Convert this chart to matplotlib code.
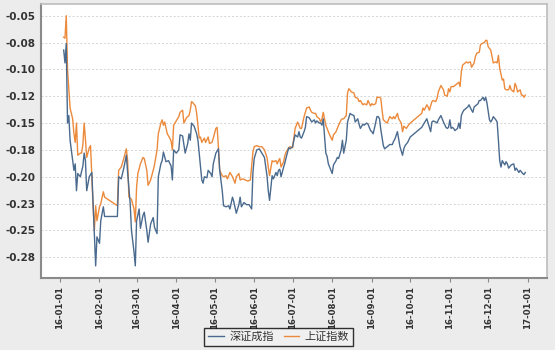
import matplotlib
matplotlib.use("Agg")
import matplotlib.pyplot as plt
import matplotlib.dates as mdates
import matplotlib.ticker as mticker
import pandas as pd

series_names = ["深证成指", "上证指数"]

dates_sz = ["01-04","01-05","01-06","01-07","01-08","01-09","01-11","01-12","01-13","01-14","01-15","01-17","01-19","01-20","01-21","01-22","01-24","01-25","01-26","01-27","01-28","01-29","01-30",
"02-01","02-02","02-04","02-05","02-15","02-16","02-18","02-20","02-22","02-23","02-25","02-26","02-28","02-29",
"03-01","03-03","03-04","03-06","03-07","03-09","03-10","03-12","03-14","03-15","03-17","03-18","03-20","03-21","03-22","03-24","03-26","03-28","03-29","03-30",
"04-01","04-03","04-04","04-06","04-08","04-10","04-11","04-12","04-13","04-15","04-17","04-18","04-20","04-21","04-22","04-23","04-25","04-26","04-28","04-29","04-30",
"05-02","05-04","05-05","05-07","05-08","05-10","05-12","05-13","05-15","05-16","05-18","05-20","05-21","05-22","05-24","05-26","05-28","05-30","05-31",
"06-01","06-03","06-05","06-07","06-09","06-11","06-12","06-13","06-15","06-16","06-18","06-19","06-20","06-21","06-22","06-24","06-25","06-26","06-28","06-29",
"07-01","07-02","07-03","07-05","07-06","07-07","07-08","07-10","07-11","07-12","07-14","07-15","07-16","07-18","07-19","07-20","07-22","07-23","07-24","07-25","07-27","07-28","07-29","07-31",
"08-01","08-02","08-04","08-05","08-06","08-08","08-09","08-10","08-12","08-13","08-15","08-16","08-18","08-19","08-21","08-22","08-23","08-25","08-26","08-28","08-29","08-31",
"09-01","09-02","09-03","09-05","09-06","09-07","09-08","09-10","09-11","09-12","09-14","09-15","09-17","09-18","09-19","09-21","09-22","09-23","09-25","09-26","09-27","09-29",
"10-01","10-04","10-07","10-10","10-11","10-12","10-14","10-15","10-17","10-18","10-19","10-21","10-22","10-23","10-25","10-27","10-29","10-30","10-31",
"11-01","11-02","11-03","11-04","11-05","11-07","11-08","11-09","11-10","11-11","11-12","11-14","11-15","11-16","11-18","11-19","11-20","11-22","11-23","11-24","11-25","11-27","11-28","11-29","11-30",
"12-02","12-03","12-04","12-05","12-07","12-08","12-09","12-10","12-11","12-12","12-14","12-15","12-16","12-17","12-19","12-21","12-22","12-23","12-25","12-26","12-28","12-29","12-30"]

values_sz = [-0.082,-0.094,-0.076,-0.150,-0.143,-0.166,-0.185,-0.194,-0.188,-0.213,-0.197,-0.200,-0.190,-0.178,-0.185,-0.213,-0.200,-0.198,-0.196,-0.225,-0.253,-0.283,-0.256,
-0.262,-0.241,-0.228,-0.237,-0.237,-0.200,-0.202,-0.192,-0.180,-0.196,-0.225,-0.250,-0.270,-0.283,
-0.241,-0.230,-0.248,-0.236,-0.233,-0.250,-0.261,-0.244,-0.238,-0.247,-0.253,-0.200,-0.188,-0.185,-0.177,-0.186,-0.185,-0.190,-0.203,-0.175,
-0.178,-0.175,-0.161,-0.162,-0.178,-0.169,-0.160,-0.166,-0.150,-0.153,-0.160,-0.166,-0.191,-0.203,-0.206,-0.200,-0.201,-0.194,-0.197,-0.200,-0.188,
-0.178,-0.174,-0.194,-0.213,-0.227,-0.228,-0.227,-0.230,-0.219,-0.223,-0.234,-0.226,-0.219,-0.228,-0.224,-0.226,-0.226,-0.230,-0.196,
-0.183,-0.175,-0.174,-0.178,-0.182,-0.199,-0.213,-0.222,-0.199,-0.202,-0.196,-0.199,-0.194,-0.193,-0.200,-0.191,-0.187,-0.182,-0.173,-0.174,
-0.172,-0.166,-0.161,-0.163,-0.158,-0.163,-0.164,-0.158,-0.154,-0.144,-0.145,-0.147,-0.149,-0.147,-0.150,-0.148,-0.150,-0.150,-0.152,-0.146,-0.178,-0.181,-0.188,-0.194,
-0.197,-0.189,-0.185,-0.182,-0.183,-0.175,-0.166,-0.178,-0.166,-0.149,-0.141,-0.142,-0.143,-0.149,-0.146,-0.151,-0.155,-0.151,-0.152,-0.150,-0.151,-0.157,
-0.158,-0.160,-0.155,-0.144,-0.144,-0.146,-0.156,-0.171,-0.174,-0.173,-0.171,-0.170,-0.170,-0.167,-0.165,-0.158,-0.165,-0.172,-0.180,-0.174,-0.171,-0.168,
-0.163,-0.160,-0.157,-0.154,-0.152,-0.150,-0.146,-0.150,-0.158,-0.149,-0.148,-0.149,-0.150,-0.147,-0.143,-0.149,-0.154,-0.155,-0.154,
-0.147,-0.155,-0.154,-0.155,-0.157,-0.155,-0.150,-0.155,-0.143,-0.140,-0.138,-0.136,-0.135,-0.133,-0.138,-0.140,-0.135,-0.133,-0.132,-0.129,-0.129,-0.126,-0.129,-0.126,-0.131,
-0.147,-0.149,-0.147,-0.144,-0.147,-0.149,-0.166,-0.185,-0.191,-0.185,-0.189,-0.186,-0.188,-0.192,-0.189,-0.188,-0.194,-0.192,-0.196,-0.194,-0.197,-0.198,-0.196]

dates_sh = ["01-04","01-05","01-06","01-07","01-08","01-09","01-11","01-12","01-13","01-14","01-15","01-17","01-18","01-19","01-20","01-21","01-22","01-24","01-25","01-26","01-27","01-28","01-29","01-30",
"02-01","02-02","02-04","02-05","02-15","02-16","02-18","02-20","02-22","02-23","02-24","02-26","02-28","02-29",
"03-01","03-02","03-04","03-06","03-07","03-09","03-10","03-12","03-14","03-15","03-17","03-18","03-20","03-21","03-22","03-23","03-25","03-27","03-28","03-29","03-30",
"04-01","04-03","04-04","04-06","04-07","04-09","04-11","04-12","04-13","04-14","04-16","04-17","04-19","04-20","04-21","04-23","04-24","04-26","04-27","04-29","04-30",
"05-02","05-03","05-04","05-05","05-07","05-08","05-10","05-11","05-13","05-15","05-17","05-18","05-20","05-21","05-23","05-25","05-27","05-29","05-31",
"06-01","06-03","06-05","06-07","06-09","06-11","06-12","06-13","06-15","06-16","06-18","06-19","06-20","06-21","06-22","06-24","06-25","06-26","06-28","06-29",
"07-01","07-02","07-03","07-05","07-07","07-08","07-10","07-12","07-14","07-15","07-16","07-18","07-19","07-20","07-22","07-23","07-24","07-25","07-27","07-28","07-29","07-30",
"08-01","08-02","08-04","08-05","08-06","08-08","08-09","08-10","08-12","08-13","08-14","08-16","08-18","08-19","08-21","08-22","08-23","08-25","08-26","08-28","08-29","08-31",
"09-01","09-02","09-04","09-05","09-07","09-08","09-09","09-10","09-12","09-13","09-14","09-15","09-17","09-18","09-19","09-21","09-22","09-24","09-25","09-26","09-28","09-29",
"10-01","10-04","10-07","10-10","10-11","10-12","10-14","10-15","10-16","10-18","10-19","10-21","10-22","10-23","10-25","10-27","10-28","10-30","10-31",
"11-01","11-02","11-04","11-05","11-07","11-08","11-09","11-10","11-11","11-13","11-14","11-15","11-17","11-18","11-20","11-21","11-22","11-24","11-25","11-26","11-28","11-29","11-30",
"12-01","12-03","12-04","12-05","12-07","12-08","12-09","12-10","12-12","12-13","12-14","12-15","12-17","12-18","12-19","12-21","12-22","12-23","12-24","12-26","12-27","12-28","12-29","12-30"]

values_sh = [-0.070,-0.071,-0.050,-0.100,-0.118,-0.136,-0.146,-0.160,-0.168,-0.150,-0.180,-0.178,-0.178,-0.170,-0.150,-0.165,-0.182,-0.173,-0.171,-0.200,-0.228,-0.250,-0.227,-0.241,
-0.228,-0.225,-0.214,-0.219,-0.227,-0.194,-0.191,-0.183,-0.174,-0.185,-0.219,-0.221,-0.230,-0.242,
-0.210,-0.197,-0.188,-0.182,-0.183,-0.194,-0.208,-0.203,-0.194,-0.189,-0.175,-0.160,-0.150,-0.147,-0.152,-0.149,-0.160,-0.164,-0.167,-0.175,-0.152,
-0.148,-0.144,-0.140,-0.138,-0.150,-0.145,-0.143,-0.138,-0.130,-0.131,-0.134,-0.141,-0.164,-0.163,-0.168,-0.164,-0.168,-0.163,-0.169,-0.168,-0.164,
-0.155,-0.154,-0.172,-0.194,-0.199,-0.200,-0.199,-0.202,-0.196,-0.200,-0.206,-0.200,-0.197,-0.203,-0.202,-0.203,-0.204,-0.203,-0.177,
-0.172,-0.171,-0.172,-0.172,-0.175,-0.182,-0.191,-0.199,-0.185,-0.186,-0.185,-0.188,-0.185,-0.183,-0.191,-0.186,-0.180,-0.177,-0.173,-0.172,
-0.173,-0.164,-0.155,-0.149,-0.155,-0.155,-0.144,-0.136,-0.135,-0.138,-0.140,-0.141,-0.141,-0.144,-0.146,-0.149,-0.146,-0.140,-0.152,-0.155,-0.158,-0.161,
-0.166,-0.161,-0.158,-0.155,-0.152,-0.147,-0.146,-0.146,-0.143,-0.122,-0.118,-0.121,-0.122,-0.126,-0.127,-0.130,-0.129,-0.133,-0.132,-0.133,-0.129,-0.134,
-0.132,-0.133,-0.132,-0.126,-0.126,-0.127,-0.138,-0.147,-0.149,-0.150,-0.147,-0.144,-0.146,-0.144,-0.146,-0.141,-0.146,-0.150,-0.158,-0.153,-0.155,-0.153,
-0.150,-0.147,-0.144,-0.141,-0.136,-0.138,-0.133,-0.135,-0.138,-0.130,-0.129,-0.130,-0.127,-0.121,-0.115,-0.119,-0.124,-0.125,-0.118,
-0.121,-0.116,-0.116,-0.115,-0.113,-0.112,-0.116,-0.102,-0.096,-0.094,-0.093,-0.094,-0.093,-0.098,-0.094,-0.088,-0.085,-0.084,-0.077,-0.076,-0.075,-0.073,-0.073,
-0.079,-0.082,-0.088,-0.094,-0.093,-0.094,-0.087,-0.099,-0.110,-0.109,-0.118,-0.119,-0.119,-0.115,-0.119,-0.121,-0.113,-0.116,-0.121,-0.119,-0.124,-0.124,-0.126,-0.124]

y_ticks = [-0.05, -0.075, -0.10, -0.125, -0.15, -0.175, -0.20, -0.225, -0.25, -0.275]
y_tick_labels = ["-0.05", "-0.08", "-0.10", "-0.12", "-0.15", "-0.18", "-0.20", "-0.23", "-0.25", "-0.28"]
x_start, x_end = "2015-12-17", "2017-01-16"

c_sz = "#4a6a8e"
c_sh = "#ec8a3c"

plt.rcParams['font.family'] = ['DejaVu Sans']

fig = plt.figure(figsize=(5.55, 3.5), dpi=100, facecolor="#ececec")
ax = fig.add_axes([0.0733, 0.2057, 0.9123, 0.7820])
ax.set_facecolor("white")

d_sz = pd.to_datetime(["2016-" + d for d in dates_sz])
d_sh = pd.to_datetime(["2016-" + d for d in dates_sh])
l1, = ax.plot(d_sz, values_sz, color=c_sz, lw=1.0, label=series_names[0])
l2, = ax.plot(d_sh, values_sh, color=c_sh, lw=1.0, label=series_names[1])
# draw blue on top where overlapping
l1.set_zorder(3)
l2.set_zorder(2)

ax.set_xlim(pd.Timestamp(x_start), pd.Timestamp(x_end))
ax.set_ylim(-0.2943, -0.0394)

ax.yaxis.set_major_locator(mticker.FixedLocator(y_ticks))
ax.yaxis.set_major_formatter(mticker.FixedFormatter(y_tick_labels))
ax.xaxis.set_major_locator(mdates.MonthLocator())
ax.xaxis.set_major_formatter(mdates.DateFormatter("%y-%m-%d"))

ax.grid(axis='y', linestyle=(0, (2, 2)), color="#d4d4d4", lw=0.7)
ax.set_axisbelow(True)

for lab in ax.get_yticklabels():
    lab.set_fontsize(7.5)
    lab.set_color("#333333")
    lab.set_fontweight("bold")
for lab in ax.get_xticklabels():
    lab.set_fontsize(6.2)
    lab.set_rotation(90)
    lab.set_color("#333333")
    lab.set_fontweight("bold")

ax.tick_params(axis='y', length=0, pad=4)
ax.tick_params(axis='x', length=3, color="#888888", pad=3)

for s in ['top', 'right']:
    ax.spines[s].set_color("#bdbdbd")
    ax.spines[s].set_linewidth(1.2)
for s in ['left', 'bottom']:
    ax.spines[s].set_color("#8a8a8a")
    ax.spines[s].set_linewidth(1.5)

leg = fig.legend(handles=[l1, l2], loc='lower center', bbox_to_anchor=(0.502, -0.005),
                 ncol=2, frameon=True, fancybox=False, edgecolor="black",
                 facecolor="#f2f2f2", handlelength=1.4, handletextpad=0.5,
                 columnspacing=0.9, borderpad=0.35,
                 prop={'family': ['Noto Sans CJK SC', 'DejaVu Sans'], 'size': 8})
leg.get_frame().set_linewidth(1.0)
for t in leg.get_texts():
    t.set_color("#333333")

fig.savefig("out.png", dpi=100, facecolor=fig.get_facecolor())
